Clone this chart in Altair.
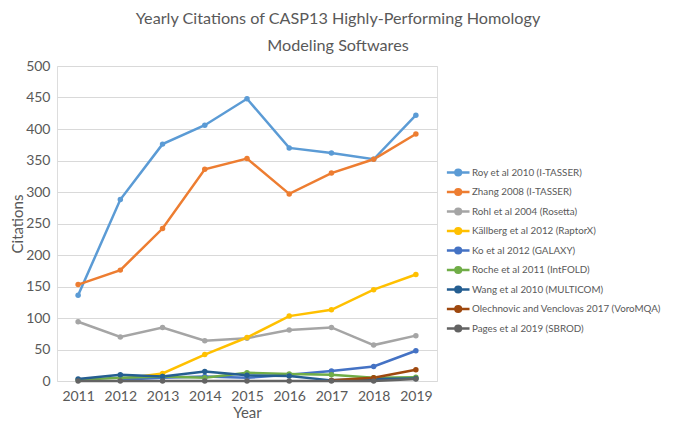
import altair as alt
import pandas as pd

years = [2011, 2012, 2013, 2014, 2015, 2016, 2017, 2018, 2019]

series_names = [
    "Roy et al 2010 (I-TASSER)",
    "Zhang 2008 (I-TASSER)",
    "Rohl et al 2004 (Rosetta)",
    "Källberg et al 2012 (RaptorX)",
    "Ko et al 2012 (GALAXY)",
    "Roche et al 2011 (IntFOLD)",
    "Wang et al 2010 (MULTICOM)",
    "Olechnovic and Venclovas 2017 (VoroMQA)",
    "Pages et al 2019 (SBROD)",
]
colors = ["#5B9BD5", "#ED7D31", "#A5A5A5", "#FFC000", "#4472C4",
          "#70AD47", "#255E91", "#9E480E", "#636363"]

roy = [136, 288, 376, 406, 448, 370, 362, 352, 422]
zhang = [153, 176, 242, 336, 353, 297, 330, 352, 392]
rohl = [94, 70, 85, 64, 68, 81, 85, 57, 72]
kallberg = [None, 3, 12, 42, 69, 103, 113, 145, 169]
ko = [None, 2, 5, 7, 5, 10, 16, 23, 48]
roche = [2, 5, 7, 5, 13, 11, 10, 5, 6]
wang = [3, 10, 7, 15, 9, 8, 1, 3, 4]
olechnovic = [None, None, None, None, None, None, 1, 5, 18]
pages = [0, 0, 0, 0, 0, 0, 0, 0, 3]

all_vals = [roy, zhang, rohl, kallberg, ko, roche, wang, olechnovic, pages]

rows = []
for name, vals in zip(series_names, all_vals):
    for y, v in zip(years, vals):
        if v is not None:
            rows.append({"Year": str(y), "Citations": v, "Series": name})
df = pd.DataFrame(rows)

FONT = "Lato, sans-serif"
GREY = "#595959"

sym = "M-2.35,0L0.85,0M-1.15,0A0.4,0.4 0 1,0 -0.35,0A0.4,0.4 0 1,0 -1.15,0Z"

color = alt.Color(
    "Series:N",
    scale=alt.Scale(domain=series_names, range=colors),
    sort=series_names,
    legend=alt.Legend(
        title=None, orient="none", legendX=398, legendY=98,
        symbolType=sym, symbolSize=200, symbolStrokeWidth=2.5,
        labelFont=FONT, labelFontSize=9.8, labelColor=GREY,
        rowPadding=2.5, labelOffset=0, labelLimit=300,
    ),
)

x = alt.X("Year:O", title="Year",
          scale=alt.Scale(type="point", padding=0.5),
          axis=alt.Axis(labelAngle=0, labelFont=FONT, labelFontSize=14,
                        labelColor=GREY, titleFont=FONT, titleFontSize=15,
                        titleColor=GREY, titleFontWeight="normal",
                        domain=False, ticks=False, labelPadding=8, titlePadding=2))
y = alt.Y("Citations:Q", title="Citations",
          scale=alt.Scale(domain=[0, 500]),
          axis=alt.Axis(values=list(range(0, 501, 50)), labelFont=FONT,
                        labelFontSize=14, labelColor=GREY, titleFont=FONT,
                        titleFontSize=15, titleColor=GREY, titleFontWeight="normal",
                        domain=False, ticks=False, gridColor="#D9D9D9",
                        labelPadding=7, titlePadding=0))

base = alt.Chart(df)
lines = base.mark_line(strokeWidth=2.5).encode(x=x, y=y, color=color, order=alt.Order("Year:O"))
points = base.mark_circle(size=30, opacity=1).encode(x=x, y=y, color=alt.Color("Series:N", scale=alt.Scale(domain=series_names, range=colors), legend=None))

chart = alt.layer(lines, points).properties(
    width=380, height=315,
    title=alt.TitleParams(
        ["Yearly Citations of CASP13 Highly-Performing Homology", "Modeling Softwares"],
        font=FONT, fontSize=16.2, color=GREY, fontWeight="normal",
        anchor="middle", dx=91, offset=5, lineHeight=27,
    ),
    padding={"left": 49, "top": 58, "right": 231, "bottom": 42},
    autosize=alt.AutoSizeParams(type="none"),
).configure_view(stroke=None).configure(background="white")

chart.save("out.html", embed_options={"renderer": "svg", "actions": False})
